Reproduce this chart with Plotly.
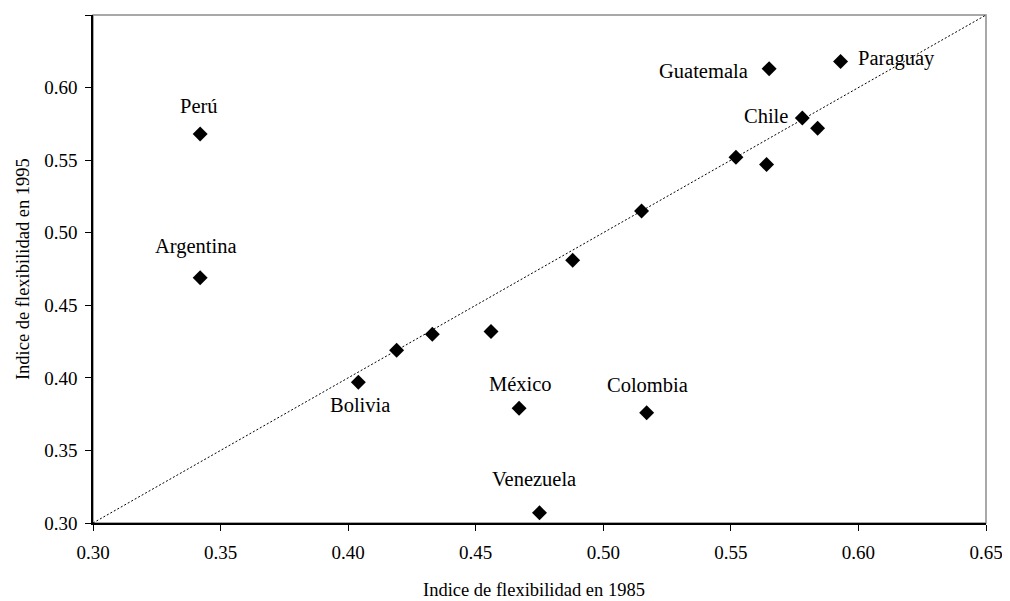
import plotly.graph_objects as go

# Data
countries = ["Perú", "Argentina", "Bolivia", "", "", "", "México", "Venezuela",
             "", "", "Colombia", "", "", "Chile", "", "Guatemala", "Paraguay"]
flex_1985 = [0.342, 0.342, 0.404, 0.419, 0.433, 0.456, 0.467, 0.475,
             0.488, 0.515, 0.517, 0.552, 0.564, 0.578, 0.584, 0.565, 0.593]
flex_1995 = [0.568, 0.469, 0.397, 0.419, 0.430, 0.432, 0.379, 0.307,
             0.481, 0.515, 0.376, 0.552, 0.547, 0.579, 0.572, 0.613, 0.618]
diag = [0.30, 0.65]
tick_vals = [0.30, 0.35, 0.40, 0.45, 0.50, 0.55, 0.60, 0.65]
tick_text = ["0.30", "0.35", "0.40", "0.45", "0.50", "0.55", "0.60", "0.65"]
x_title = "Indice de flexibilidad en 1985"
y_title = "Indice de flexibilidad en 1995"

# Label placement (styling): xanchor, xshift, yshift in px
label_style = {
    "Perú": ("center", -1, 28),
    "Argentina": ("center", -4, 31),
    "Bolivia": ("center", 2, -23),
    "México": ("center", 1, 24),
    "Colombia": ("center", 1, 28),
    "Venezuela": ("center", -6, 34),
    "Chile": ("right", -12, 2),
    "Guatemala": ("right", -19, -2),
    "Paraguay": ("left", 15, 3),
}

FONT = "Liberation Serif, Times New Roman, serif"

fig = go.Figure()
fig.add_trace(go.Scatter(x=diag, y=diag, mode="lines",
                         line=dict(color="black", width=1, dash="2px,2px"),
                         hoverinfo="skip", showlegend=False))
fig.add_trace(go.Scatter(x=flex_1985, y=flex_1995, mode="markers",
                         marker=dict(symbol="diamond", size=11.5, color="black"),
                         text=countries, showlegend=False))

annotations = []
for name, xv, yv in zip(countries, flex_1985, flex_1995):
    if not name:
        continue
    anchor, xs, ys = label_style[name]
    annotations.append(dict(x=xv, y=yv, xref="x", yref="y", text=name,
                            showarrow=False, xanchor=anchor, yanchor="middle",
                            xshift=xs, yshift=ys,
                            font=dict(family=FONT, size=20.5, color="black")))

annotations.append(dict(x=0.4943, y=-0.1311, xref="paper", yref="paper",
                        text=x_title, showarrow=False, xanchor="center",
                        yanchor="middle",
                        font=dict(family=FONT, size=18.5, color="black")))
annotations.append(dict(x=-0.0783, y=0.5, xref="paper", yref="paper",
                        text=y_title, showarrow=False, textangle=-90,
                        xanchor="center", yanchor="middle",
                        font=dict(family=FONT, size=18.5, color="black")))

fig.add_shape(type="rect", xref="paper", yref="paper", x0=0, y0=0, x1=1, y1=1,
              line=dict(color="#8c8c8c", width=1.5), layer="below")

axis_common = dict(range=[0.30, 0.65], tickvals=tick_vals, ticktext=tick_text,
                   showgrid=False, zeroline=False, showline=True,
                   linecolor="black", linewidth=1.5, ticks="outside",
                   ticklen=6, tickwidth=1.2, tickcolor="black",
                   tickfont=dict(family=FONT, size=19, color="black"))

fig.update_layout(
    width=1002, height=593,
    margin=dict(l=85, r=19, t=7, b=78),
    paper_bgcolor="white", plot_bgcolor="white",
    xaxis=dict(**axis_common, ticklabelstandoff=5),
    yaxis=dict(**axis_common, ticklabelstandoff=4),
    annotations=annotations,
    font=dict(family=FONT, color="black"),
)

fig.write_html("out.html")
